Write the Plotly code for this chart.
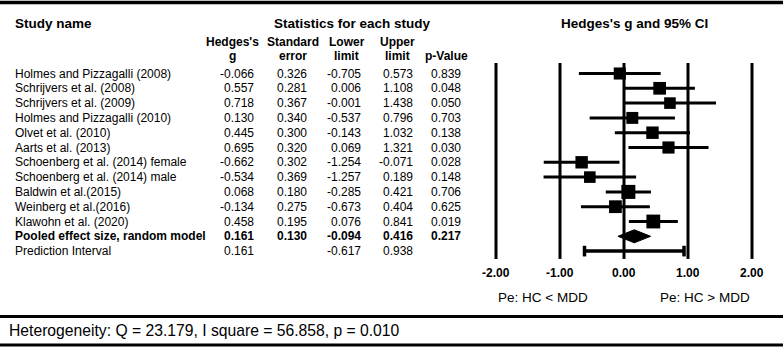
import plotly.graph_objects as go

# ---------------- data ----------------
studies = [
    "Holmes and Pizzagalli (2008)",
    "Schrijvers et al. (2008)",
    "Schrijvers et al. (2009)",
    "Holmes and Pizzagalli (2010)",
    "Olvet et al. (2010)",
    "Aarts et al. (2013)",
    "Schoenberg et al. (2014) female",
    "Schoenberg et al. (2014) male",
    "Baldwin et al.(2015)",
    "Weinberg et al.(2016)",
    "Klawohn et al. (2020)",
]
hedges_g = [-0.066, 0.557, 0.718, 0.130, 0.445, 0.695, -0.662, -0.534, 0.068, -0.134, 0.458]
std_err = [0.326, 0.281, 0.367, 0.340, 0.300, 0.320, 0.302, 0.369, 0.180, 0.275, 0.195]
lower_limit = [-0.705, 0.006, -0.001, -0.537, -0.143, 0.069, -1.254, -1.257, -0.285, -0.673, 0.076]
upper_limit = [0.573, 1.108, 1.438, 0.796, 1.032, 1.321, -0.071, 0.189, 0.421, 0.404, 0.841]
p_values = [0.839, 0.048, 0.050, 0.703, 0.138, 0.030, 0.028, 0.148, 0.706, 0.625, 0.019]

pooled_label = "Pooled effect size, random model"
pooled_g = 0.161
pooled_se = 0.130
pooled_lower = -0.094
pooled_upper = 0.416
pooled_p = 0.217

pi_label = "Prediction Interval"
pi_g = 0.161
pi_lower = -0.617
pi_upper = 0.938

axis_ticks = [-2, -1, 0, 1, 2]
tick_labels = ["-2.00", "-1.00", "0.00", "1.00", "2.00"]
left_side_label = "Pe: HC < MDD"
right_side_label = "Pe: HC > MDD"

het_Q = "23.179"
het_I2 = "56.858"
het_p = "0.010"
tau_squared = 0.101

# ---------------- geometry helpers ----------------
W, H = 784, 349
ROW0, ROWSTEP = 73.5, 14.8
FONT = "Liberation Sans, Arial, sans-serif"


def py(px):
    return 1 - px / H


def px_x(px):
    return px / W


n = len(studies)
rows = list(range(n))
pooled_row = n
pi_row = n + 1

fig = go.Figure()

# vertical reference lines
for t in axis_ticks:
    fig.add_shape(type="line", xref="x", yref="y", x0=t, x1=t,
                  y0=-0.71, y1=12.53, line=dict(color="black", width=3))

# CI lines
xs, ys = [], []
for i in rows:
    xs += [lower_limit[i], upper_limit[i], None]
    ys += [i, i, None]
fig.add_trace(go.Scatter(x=xs, y=ys, mode="lines",
                         line=dict(color="black", width=3),
                         hoverinfo="skip", showlegend=False))

# squares sized by random-effects weight
weights = [1 / (s * s + tau_squared) for s in std_err]
wmax = max(weights)
sizes = [14 * (w / wmax) ** 0.33 for w in weights]
fig.add_trace(go.Scatter(x=hedges_g, y=rows, mode="markers",
                         marker=dict(symbol="square", size=sizes, color="black",
                                     opacity=1, line=dict(width=0)),
                         showlegend=False))

# pooled diamond
dh = 0.44
fig.add_trace(go.Scatter(
    x=[pooled_lower, pooled_g, pooled_upper, pooled_g, pooled_lower],
    y=[pooled_row, pooled_row - dh, pooled_row, pooled_row + dh, pooled_row],
    mode="lines", fill="toself", fillcolor="black",
    line=dict(color="black", width=1), showlegend=False))

# prediction interval
cap = 0.36
fig.add_trace(go.Scatter(
    x=[pi_lower, pi_upper, None, pi_lower, pi_lower, None, pi_upper, pi_upper],
    y=[pi_row, pi_row, None, pi_row - cap, pi_row + cap, None, pi_row - cap, pi_row + cap],
    mode="lines", line=dict(color="black", width=3.5), showlegend=False))

# ---------------- table text ----------------
ann = []
col_right = {"g": 256, "se": 308.5, "lo": 363, "up": 415, "p": 463}


def cell(text, xpx, row, anchor="right", bold=False):
    ann.append(dict(
        text=f"<b>{text}</b>" if bold else text,
        x=px_x(xpx), xref="paper", y=row, yref="y",
        xanchor=anchor, yanchor="middle", showarrow=False,
        font=dict(family=FONT, size=12, color="black")))


for i in rows:
    cell(studies[i], 13, i, anchor="left")
    cell(f"{hedges_g[i]:.3f}", col_right["g"], i)
    cell(f"{std_err[i]:.3f}", col_right["se"], i)
    cell(f"{lower_limit[i]:.3f}", col_right["lo"], i)
    cell(f"{upper_limit[i]:.3f}", col_right["up"], i)
    cell(f"{p_values[i]:.3f}", col_right["p"], i)

cell(pooled_label, 13, pooled_row, anchor="left", bold=True)
cell(f"{pooled_g:.3f}", col_right["g"], pooled_row, bold=True)
cell(f"{pooled_se:.3f}", col_right["se"], pooled_row, bold=True)
cell(f"{pooled_lower:.3f}", col_right["lo"], pooled_row, bold=True)
cell(f"{pooled_upper:.3f}", col_right["up"], pooled_row, bold=True)
cell(f"{pooled_p:.3f}", col_right["p"], pooled_row, bold=True)

cell(pi_label, 13, pi_row, anchor="left")
cell(f"{pi_g:.3f}", col_right["g"], pi_row)
cell(f"{pi_lower:.3f}", col_right["lo"], pi_row)
cell(f"{pi_upper:.3f}", col_right["up"], pi_row)


def text_px(text, xpx, ypx, size, anchor="center", bold=False):
    ann.append(dict(
        text=f"<b>{text}</b>" if bold else text,
        x=px_x(xpx), xref="paper", y=py(ypx), yref="paper",
        xanchor=anchor, yanchor="middle", showarrow=False,
        font=dict(family=FONT, size=size, color="black")))


# headers
text_px("Study name", 13, 23.5, 13.5, anchor="left", bold=True)
text_px("Statistics for each study", 352, 23.5, 13.5, bold=True)
text_px("Hedges's g and 95% CI", 634, 23.5, 13.5, bold=True)

col_heads = [("Hedges's", "g", 232), ("Standard", "error", 292.5),
             ("Lower", "limit", 346.7), ("Upper", "limit", 397.5)]
for l1, l2, cx in col_heads:
    text_px(l1, cx, 42.5, 12, bold=True)
    text_px(l2, cx, 55.5, 12, bold=True)
text_px("p-Value", 446.7, 55.5, 12, bold=True)

# tick labels under forest plot
for t, lab in zip(axis_ticks, tick_labels):
    ann.append(dict(text=f"<b>{lab}</b>", x=t, xref="x", y=py(273.3), yref="paper",
                    xanchor="center", yanchor="middle", showarrow=False,
                    font=dict(family=FONT, size=12, color="black")))

ann.append(dict(text=left_side_label, x=axis_ticks[0], xref="x", y=py(297.7), yref="paper",
                xanchor="left", yanchor="middle", showarrow=False,
                font=dict(family=FONT, size=13.5, color="black")))
ann.append(dict(text=right_side_label, x=axis_ticks[-1], xref="x", y=py(297.7), yref="paper",
                xanchor="right", yanchor="middle", showarrow=False,
                font=dict(family=FONT, size=13.5, color="black")))

# heterogeneity line
text_px(f"Heterogeneity: Q = {het_Q}, I square = {het_I2}, p = {het_p}",
        7, 330, 15.7, anchor="left")

# horizontal rules
shapes_h = [(2.5, 3.5), (316.5, 3), (345, 3)]
for ypx, lw in shapes_h:
    fig.add_shape(type="line", xref="paper", yref="paper", x0=0, x1=px_x(783),
                  y0=py(ypx), y1=py(ypx), line=dict(color="black", width=lw))

xmin, xmax = -2.2, 2.2
pxu = 64.0
x_left = 624 + xmin * pxu
x_right = 624 + xmax * pxu

fig.update_layout(
    width=W, height=H,
    margin=dict(l=0, r=0, t=0, b=0),
    paper_bgcolor="white", plot_bgcolor="white",
    annotations=ann,
    xaxis=dict(range=[xmin, xmax], domain=[x_left / W, x_right / W],
               visible=False, showgrid=False, zeroline=False, fixedrange=True),
    yaxis=dict(range=[(H - ROW0) / ROWSTEP, -ROW0 / ROWSTEP], domain=[0, 1],
               visible=False, showgrid=False, zeroline=False, fixedrange=True),
    showlegend=False,
)

fig.write_html("out.html")
